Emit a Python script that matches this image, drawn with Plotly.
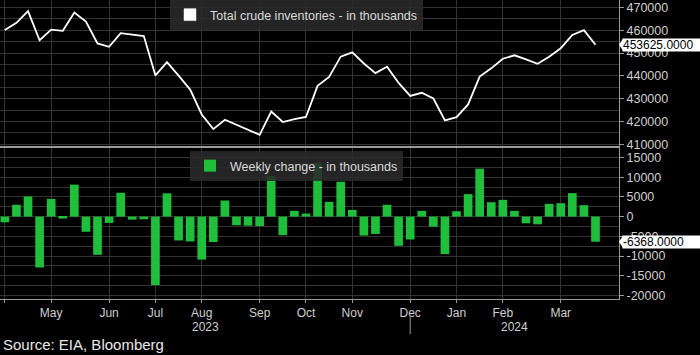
import pandas as pd
import plotly.graph_objects as go

# ---------------- data ----------------
weeks = [d.strftime("%Y-%m-%d") for d in pd.date_range("2023-04-05", periods=52, freq="7D")]

inventories = [
    460100, 463200, 468300, 455600, 460200, 459700, 467700, 463800, 454200, 452700,
    458700, 458000, 457400, 440200, 446000, 440100, 434000, 423100, 416700, 420800,
    418600, 416400, 414200, 424400, 419800, 421100, 422000, 435600, 439500, 448400,
    450300, 445400, 441200, 444000, 436900, 431200, 432600, 430100, 420500, 421900,
    427500, 439700, 443300, 447500, 449000, 447200, 445300, 448400, 452100, 457900,
    459993, 453625,
]

weekly_change = [
    -1450, 3000, 5100, -12900, 4500, -500, 8100, -3850, -9700, -1600,
    6050, -770, -680, -17350, 5900, -6050, -6300, -10900, -6450, 4080,
    -2200, -2300, -2400, 10300, -4700, 1450, 770, 13600, 3740, 8850,
    1700, -4800, -4400, 3000, -7400, -5800, 1450, -2550, -9500, 1360,
    5700, 12150, 3650, 4250, 1450, -1700, -1950, 3230, 3400, 5950,
    2900, -6368,
]

month_tick_weeks = ["2023-04-05", "2023-05-03", "2023-06-07", "2023-07-05", "2023-08-02",
                    "2023-09-06", "2023-10-04", "2023-11-01", "2023-12-06", "2024-01-03",
                    "2024-01-31", "2024-03-06"]
month_tick_text = ["", "May", "Jun", "Jul", "Aug", "Sep", "Oct", "Nov", "Dec", "Jan", "Feb", "Mar"]

year_labels = ["2023", "2024"]
year_break_week = "2023-12-06"

inv_ticks = [410000, 420000, 430000, 440000, 450000, 460000, 470000]
inv_tick_text = ["410000", "420000", "430000", "440000", "450000", "460000", "470000"]
chg_ticks = [-20000, -15000, -10000, -5000, 0, 5000, 10000, 15000]
chg_tick_text = ["-20000", "-15000", "-10000", "-5000", "0", "5000", "10000", "15000"]

inv_name = "Total crude inventories - in thousands"
chg_name = "Weekly change - in thousands"
source_text = "Source: EIA, Bloomberg"

# ---------------- styling ----------------
FONT = "Liberation Sans, Arial, sans-serif"
GRID = "#333333"
AXIS = "#9a9a9a"
TXT = "#cfcfcf"
GREEN = "#1fbf3c"

fig = go.Figure()

fig.add_trace(go.Scatter(
    x=weeks, y=inventories, mode="lines",
    line=dict(color="white", width=1.8),
    xaxis="x", yaxis="y", showlegend=False, hoverinfo="skip",
))
# legend swatch for the line series (square, as in the reference)
fig.add_trace(go.Bar(
    x=[None], y=[None], name=inv_name, marker_color="white",
    xaxis="x", yaxis="y", legend="legend", showlegend=True,
))
fig.add_trace(go.Bar(
    x=weeks, y=weekly_change, name=chg_name,
    marker=dict(color=GREEN, line=dict(width=0)),
    width=0.75, xaxis="x2", yaxis="y2", legend="legend2",
))

n = len(weeks)
xrange = [-0.42, n + 1.03]

common_x = dict(
    type="category", categoryorder="array", categoryarray=weeks,
    range=xrange, tickvals=month_tick_weeks, ticktext=month_tick_text,
    showgrid=True, gridcolor=GRID, gridwidth=1, zeroline=False,
    showline=True, linecolor=AXIS, linewidth=1,
)

top_dom = [(299 - 146) / 299, 1.0]
bot_dom = [0.0, (299 - 148) / 299]

fig.update_layout(
    width=700, height=355,
    margin=dict(l=0, r=81, t=0, b=56),
    paper_bgcolor="black", plot_bgcolor="black",
    font=dict(family=FONT, color=TXT, size=12),
    barmode="overlay",
    xaxis=dict(**common_x, anchor="y", showticklabels=False, ticks=""),
    xaxis2=dict(**common_x, anchor="y2", matches="x", mirror=True,
                ticks="outside", ticklen=3, tickcolor=AXIS,
                tickfont=dict(size=12, color=TXT, family=FONT)),
    yaxis=dict(
        domain=top_dom, anchor="x", side="right", range=[409300, 473200],
        tickvals=inv_ticks, ticktext=inv_tick_text,
        showgrid=True, gridcolor=GRID, zeroline=False,
        minor=dict(dtick=5000, tick0=0, showgrid=True, gridcolor=GRID, ticks=""),
        ticks="outside", ticklen=4, tickcolor=AXIS,
        showline=True, linecolor=AXIS, linewidth=1,
        tickfont=dict(size=12.5, color=TXT, family=FONT),
    ),
    yaxis2=dict(
        domain=bot_dom, anchor="x2", side="right", range=[-20900, 17400],
        tickvals=chg_ticks, ticktext=chg_tick_text,
        showgrid=True, gridcolor=GRID, zeroline=False,
        minor=dict(dtick=2500, tick0=0, showgrid=True, gridcolor=GRID, ticks=""),
        ticks="outside", ticklen=4, tickcolor=AXIS,
        showline=True, linecolor=AXIS, linewidth=1,
        tickfont=dict(size=12.5, color=TXT, family=FONT),
    ),
    legend=dict(
        x=170 / 619, y=1.0, xanchor="left", yanchor="top",
        bgcolor="rgba(42,42,42,0.88)", borderwidth=0,
        font=dict(size=12.5, color="#d9d9d9", family=FONT),
    ),
    legend2=dict(
        x=190 / 619, y=(299 - 151) / 299, xanchor="left", yanchor="top",
        bgcolor="rgba(42,42,42,0.88)", borderwidth=0,
        font=dict(size=12.5, color="#d9d9d9", family=FONT),
    ),
)

# year labels centred on each year's span, and the year separator tick
break_idx = weeks.index(year_break_week)
year_centres = [(xrange[0] + break_idx) / 2, (break_idx + xrange[1]) / 2]
for lab, xc in zip(year_labels, year_centres):
    fig.add_annotation(x=xc, xref="x2", y=(299 - 327) / 299, yref="paper",
                       text=lab, showarrow=False, xanchor="center", yanchor="middle",
                       font=dict(size=12, color=TXT, family=FONT))
fig.add_shape(type="line", xref="x2", yref="paper",
              x0=year_break_week, x1=year_break_week,
              y0=(299 - 316) / 299, y1=(299 - 334) / 299,
              line=dict(color=AXIS, width=1))

# last-value tags on the right axis
for yref, val in (("y", inventories[-1]), ("y2", weekly_change[-1])):
    fig.add_annotation(x=1, xref="paper", y=val, yref=yref,
                       text=f"{val:.4f}", showarrow=False,
                       xanchor="left", yanchor="middle", xshift=3,
                       width=78, height=12, align="left", borderpad=0,
                       bgcolor="white", font=dict(size=12, color="black", family=FONT))
    fig.add_shape(type="path", xref="paper", yref=yref,
                  xsizemode="pixel", xanchor=1, ysizemode="pixel", yanchor=val,
                  path="M 0 0 L 4 6 L 4 -6 Z",
                  fillcolor="white", line=dict(width=0), layer="above")

fig.add_annotation(x=0, xref="paper", y=(299 - 344) / 299, yref="paper",
                   text=source_text, showarrow=False, xanchor="left", yanchor="middle",
                   xshift=1, font=dict(size=15, color="#e8e8e8", family=FONT))

fig.write_html("out.html", config={"displayModeBar": False},
               post_script="document.body.style.margin='0';")
